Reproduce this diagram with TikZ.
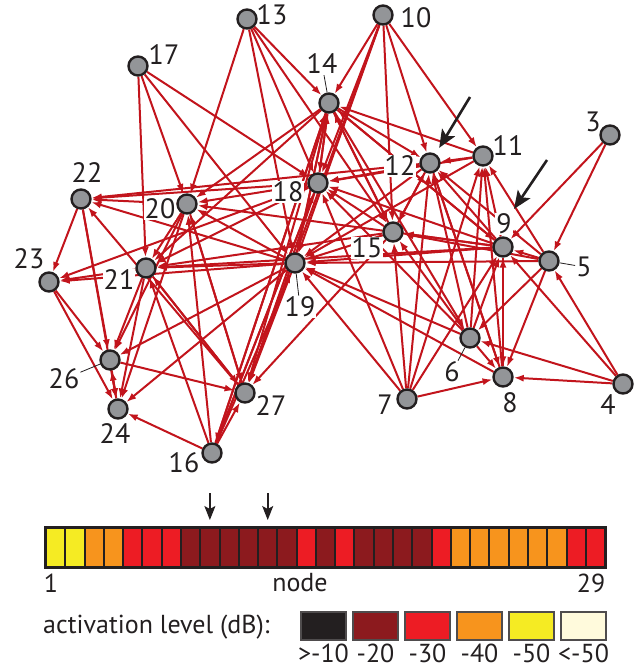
\documentclass[tikz,border=0pt]{standalone}
\usepackage{fontspec}
\setmainfont{PT Sans}
\usepackage{xcolor}
\definecolor{rojoarista}{RGB}{194, 20, 28}
\definecolor{grisnodo}{RGB}{147, 149, 152}
\definecolor{negrocl}{RGB}{35, 31, 32}
\definecolor{rojooscuro}{RGB}{140, 26, 30}
\definecolor{rojocl}{RGB}{237, 28, 36}
\definecolor{naranjacl}{RGB}{247, 148, 29}
\definecolor{amarillocl}{RGB}{245, 235, 35}
\definecolor{cremacl}{RGB}{255, 250, 220}
\usepackage{tikz}
\usetikzlibrary{arrows.meta, positioning}
\pgfdeclarelayer{fondo}
\pgfdeclarelayer{medio}
\pgfsetlayers{fondo,medio,main}

\begin{document}
\begin{tikzpicture}[x=1pt, y=-1pt,
    nodo/.style={circle, draw=negrocl, fill=grisnodo, line width=2.4pt, minimum size=19pt, inner sep=0pt},
    arista/.style={draw=rojoarista, line width=2pt, -{Latex[length=10pt,width=7pt]}},
    etiq/.style={fill=white, inner sep=1pt, text=negrocl, font=\fontsize{28}{30}\selectfont},
    texto/.style={inner sep=1pt, text=negrocl, font=\fontsize{26}{28}\selectfont},
    guia/.style={draw=negrocl, line width=0.8pt},
    flecha/.style={draw=negrocl, line width=2.6pt, -{Stealth[length=18pt,width=15pt,inset=4pt]}},
    flechita/.style={draw=negrocl, line width=1.6pt, -{Stealth[length=14pt,width=11pt,inset=3pt]}},
    celda/.style={draw=negrocl, line width=2pt, minimum width=19.28pt, minimum height=39pt, inner sep=0pt},
    caja/.style={draw=negrocl!80, line width=2pt, minimum width=45pt, minimum height=28pt, inner sep=0pt}]
    \useasboundingbox (0,0) rectangle (639,672);
    % Nodos de la red
    \foreach \n/\x/\y in {3/610/135, 4/623/384, 5/549/261, 6/470/338, 7/407/399, 8/503/377,
        9/503/247, 10/383/15, 11/483/156, 12/430/163, 13/247/19, 14/329/103, 15/393/232,
        16/212/453, 17/138/66, 18/318/183, 19/295/263, 20/187/204, 21/146/268, 22/81/199,
        23/49/282, 24/118/409, 26/110/360, 27/245/393} {
        \node[nodo] (n\n) at (\x,\y) {};
    }
    % Aristas (origen/destino)
    \begin{pgfonlayer}{fondo}
    \foreach \a/\b in {13/20, 13/14, 13/18, 13/19, 13/15,
        17/20, 17/18, 17/19, 17/21,
        10/14, 10/12, 10/11, 10/15, 10/19, 10/27, 10/18,
        14/18, 14/19, 14/20, 14/21, 14/27, 14/16, 14/15, 14/9, 14/6, 14/12,
        11/14, 11/12, 11/18, 11/19,
        12/18, 12/19, 12/22, 12/15, 12/8,
        9/14, 9/12, 9/11, 9/15, 9/19, 9/18, 9/20, 9/8, 9/21,
        3/9, 3/5,
        4/5, 4/8, 4/6, 4/9,
        5/9, 5/19, 5/15, 5/6, 5/8, 5/12, 5/11,
        6/19, 6/9, 6/11, 6/12, 6/8, 6/15, 6/18,
        7/8, 7/19, 7/15, 7/12, 7/11, 7/9, 7/18,
        8/9, 8/11, 8/12, 8/19,
        15/19, 15/18, 15/12, 15/21, 15/27, 15/14,
        16/19, 16/14, 16/18, 16/27, 16/24, 16/21, 16/20,
        18/22, 18/20, 18/23, 18/21, 18/27, 18/16, 18/14,
        19/21, 19/26, 19/24, 19/27, 19/20, 19/22, 19/14, 19/23,
        20/21, 20/26, 20/24, 20/27, 20/22,
        21/23, 21/26, 21/24, 21/27,
        22/23, 22/26, 22/24,
        23/26, 23/24,
        26/24, 24/26, 26/27,
        27/21, 27/20, 27/22} {
        \draw[arista] (n\a) -- (n\b);
    }
    \end{pgfonlayer}
    % Etiquetas de los nodos
    \begin{pgfonlayer}{medio}
    \foreach \n/\x/\y in {3/593/122, 4/608/405, 5/584/267, 6/452/372, 7/385/405, 8/510/403,
        9/504/224, 10/416/18, 11/508/146, 12/400/166, 13/272/15, 14/322/64, 15/367/248,
        16/184/463, 17/164/55, 18/288/192, 19/300/307, 20/160/209, 21/119/280, 22/87/173,
        23/29/259, 24/115/434, 26/64/379, 27/271/406} {
        \node[etiq] (l\n) at (\x,\y) {\n};
    }
    \foreach \n in {5,6,14,19,26} {
        \draw[guia] (l\n) -- (n\n);
    }
    \end{pgfonlayer}
    % Flechas negras que senalan los nodos 12 y 9
    \coordinate (s12) at (470,97);
    \coordinate (s9) at (547,160);
    \coordinate (e9) at (514,209);
    \draw[flecha, shorten >=7pt] (s12) -- (n12);
    \draw[flecha] (s9) -- (e9);
    % Barra de activacion por nodo
    \foreach \c [count=\i] in {amarillocl, amarillocl, naranjacl, naranjacl, rojocl, rojocl, rojocl,
        rojooscuro, rojooscuro, rojooscuro, rojooscuro, rojooscuro, rojooscuro, rojocl,
        rojooscuro, rojocl, rojooscuro, rojooscuro, rojooscuro, rojooscuro, rojocl,
        naranjacl, naranjacl, naranjacl, naranjacl, naranjacl, naranjacl, rojocl, rojocl} {
        \node[celda, fill=\c] (c\i) at ({46+(\i-0.5)*19.28},547.5) {};
    }
    \draw[negrocl, line width=2.5pt] (c1.north west) rectangle (c29.south east);
    \coordinate[above=34pt of c9.north] (p9);
    \coordinate[above=34pt of c12.north] (p12);
    \draw[flechita, shorten >=7pt] (p9) -- (c9.north);
    \draw[flechita, shorten >=7pt] (p12) -- (c12.north);
    \node[texto] (uno) at (51,583) {1};
    \node[texto] (eje) at (300,583) {node};
    \node[texto] (ultimo) at (591,583) {29};
    % Leyenda
    \node[texto, anchor=west] (leyenda) at (42,627) {activation level (dB):};
    \foreach \c/\t [count=\i] in {negrocl/{>-10}, rojooscuro/{-20}, rojocl/{-30},
        naranjacl/{-40}, amarillocl/{-50}, cremacl/{<-50}} {
        \node[caja, fill=\c] (k\i) at ({323.5+(\i-1)*52},626) {};
        \node[texto, below=2pt of k\i] (t\i) {\t};
    }
\end{tikzpicture}
\end{document}
